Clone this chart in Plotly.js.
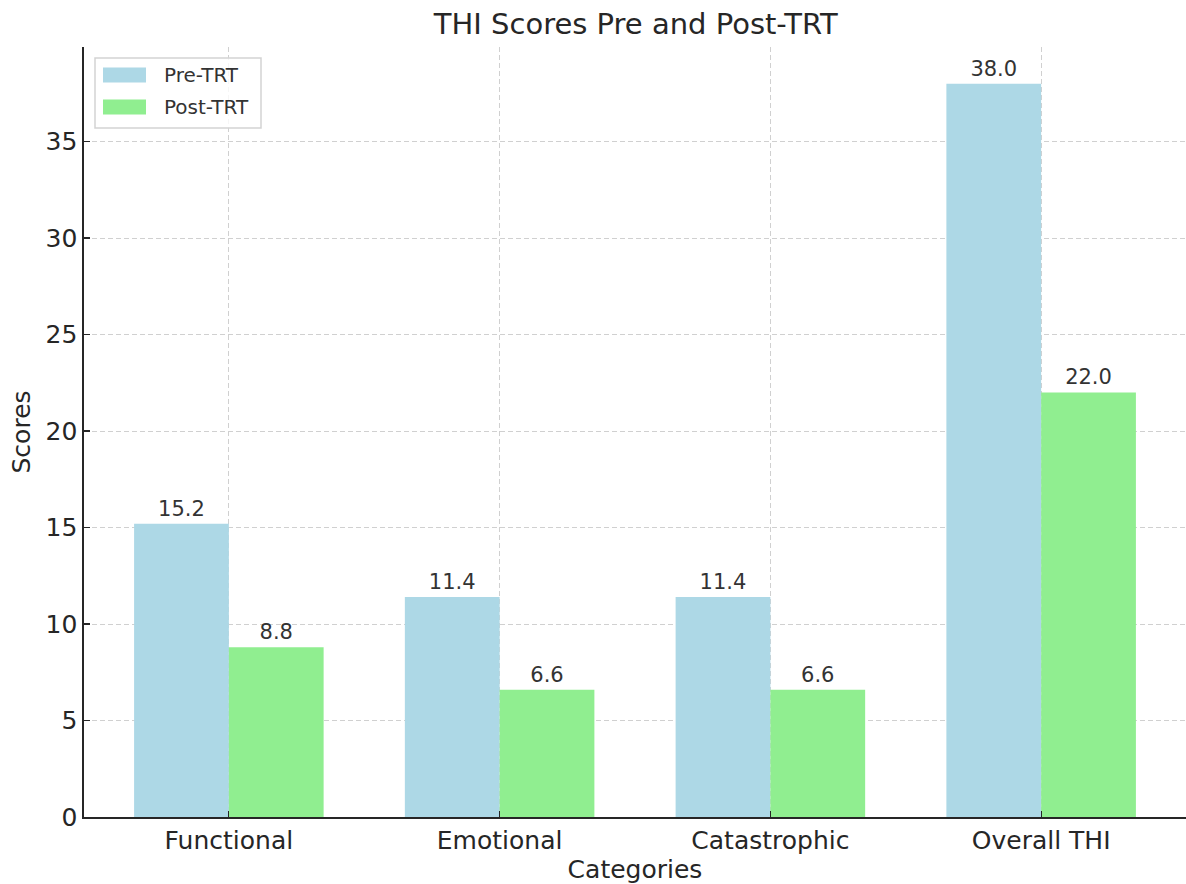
<!DOCTYPE html>
<html><head><meta charset="utf-8">
<script src="https://cdn.plot.ly/plotly-3.0.1.min.js"></script>
<style>html,body{margin:0;padding:0;background:#fff}#chart{width:1186px;height:884px}</style>
</head><body><div id="chart"></div>
<script>
const categories = ['Functional', 'Emotional', 'Catastrophic', 'Overall THI'];
const preTRT = [15.2, 11.4, 11.4, 38.0];
const postTRT = [8.8, 6.6, 6.6, 22.0];
const seriesNames = ['Pre-TRT', 'Post-TRT'];
const seriesColors = ['#ADD8E6', '#90EE90'];
const yTicks = [0, 5, 10, 15, 20, 25, 30, 35];

const font = 'DejaVu Sans, sans-serif';
const W = 1186, H = 884, M = {l: 84, r: 0, t: 47, b: 67};
const pw = W - M.l - M.r, ph = H - M.t - M.b;
const px = x => (x - M.l) / pw;
const py = y => (H - M.b - y) / ph;

function barTrace(name, vals, color) {
  return {
    type: 'bar', name: name, x: categories, y: vals,
    marker: {color: color, line: {width: 0}},
    text: vals.map(v => v.toFixed(1)), textposition: 'outside',
    textfont: {family: font, size: 21, color: '#333333'},
    cliponaxis: false, hoverinfo: 'skip', showlegend: false
  };
}
const data = [barTrace(seriesNames[0], preTRT, seriesColors[0]), barTrace(seriesNames[1], postTRT, seriesColors[1])];

// custom legend (matplotlib-like)
const shapes = [{
  type: 'path', xref: 'paper', yref: 'paper', layer: 'above',
  path: (() => {
    const x0 = px(95), x1 = px(261), y0 = py(128), y1 = py(58);
    return `M ${x0},${y0} L ${x1},${y0} L ${x1},${y1} L ${x0},${y1} Z`;
  })(),
  fillcolor: 'rgba(255,255,255,0.8)', line: {color: '#d3d3d3', width: 1.5}
}];
const annotations = [];
seriesNames.forEach((n, i) => {
  const yc = 75 + i * 32;
  shapes.push({type: 'rect', xref: 'paper', yref: 'paper', layer: 'above',
    x0: px(103), x1: px(146), y0: py(yc + 7.5), y1: py(yc - 7.5),
    fillcolor: seriesColors[i], line: {width: 0}});
  annotations.push({xref: 'paper', yref: 'paper', x: px(162), y: py(yc), xanchor: 'left', yanchor: 'middle',
    text: n, showarrow: false, font: {family: font, size: 20, color: '#333333'}});
});

const gridStyle = {showgrid: true, gridcolor: '#d0d0d0', gridwidth: 1, griddash: '5px,3px'};
const layout = {
  width: W, height: H, margin: M,
  paper_bgcolor: '#ffffff', plot_bgcolor: '#ffffff',
  barmode: 'group', bargap: 0.3, bargroupgap: 0,
  font: {family: font, color: '#262626'},
  title: {text: 'THI Scores Pre and Post-TRT', font: {family: font, size: 29, color: '#262626'},
          x: 0.536, xanchor: 'center', y: 1 - 24/884, yanchor: 'middle', xref: 'container', yref: 'container'},
  xaxis: Object.assign({}, gridStyle, {
    type: 'category', range: [-0.535, 3.535],
    showline: true, linecolor: '#262626', linewidth: 1.6, mirror: false,
    ticks: 'inside', ticklen: 6, tickwidth: 1.2, tickcolor: '#262626',
    tickfont: {family: font, size: 25, color: '#262626'},
    title: {text: 'Categories', font: {family: font, size: 25, color: '#262626'}, standoff: 8},
    zeroline: false, layer: 'above traces', automargin: false
  }),
  yaxis: Object.assign({}, gridStyle, {
    range: [0, 39.9], tickvals: yTicks, ticktext: yTicks.map(String),
    showline: true, linecolor: '#262626', linewidth: 1.6,
    ticks: 'inside', ticklen: 6, tickwidth: 1.2, tickcolor: '#262626',
    tickfont: {family: font, size: 25, color: '#262626'},
    title: {text: 'Scores', font: {family: font, size: 25, color: '#262626'}, standoff: 8},
    zeroline: false, layer: 'above traces', automargin: false
  }),
  shapes: shapes, annotations: annotations,
  showlegend: false
};
Plotly.newPlot('chart', data, layout, {displayModeBar: false, staticPlot: true});
</script></body></html>
